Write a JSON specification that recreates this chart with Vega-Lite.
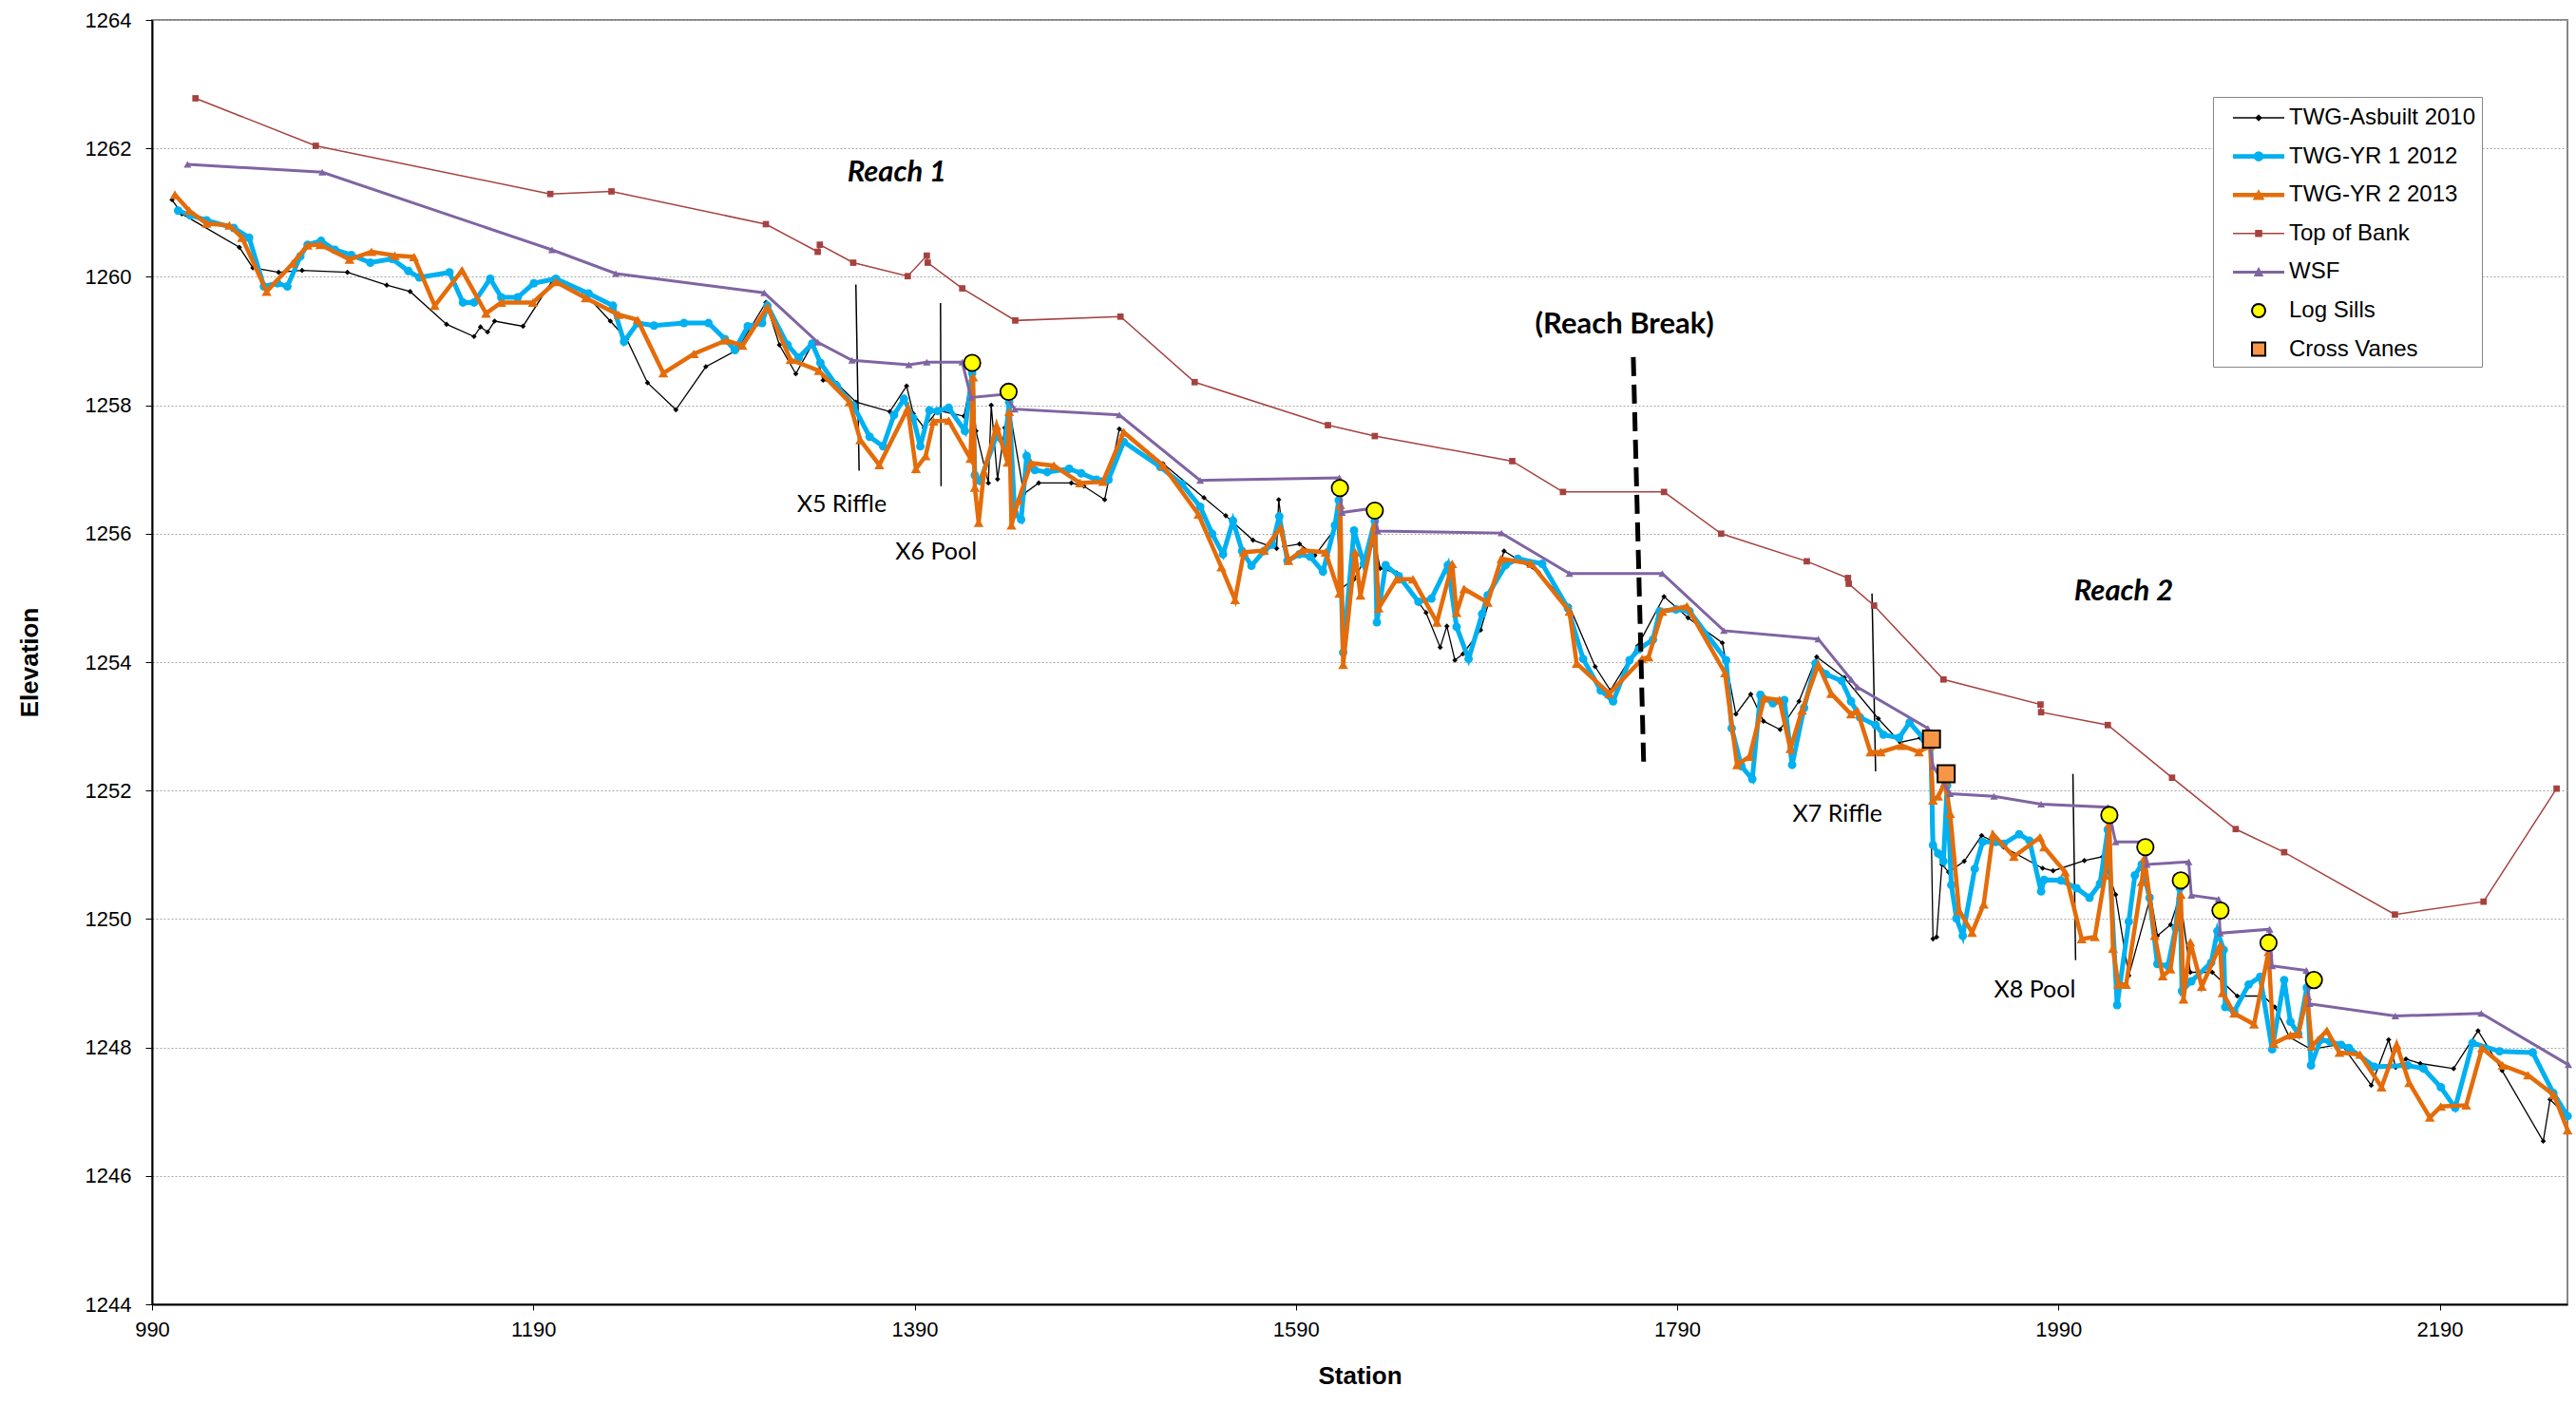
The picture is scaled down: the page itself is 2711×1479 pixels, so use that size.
{
"$schema": "https://vega.github.io/schema/vega-lite/v6.json",
"width": 2542, "height": 1352,
"autosize": {"type": "none"},
"padding": {"left": 160, "top": 21, "right": 9, "bottom": 106},
"background": "white",
"config": {"view": {"stroke": "#868686", "strokeWidth": 2}, "font": "Liberation Sans"},
"datasets": {
"survey": [
{"series":"TWG-Asbuilt 2010","station":1000.5,"elevation":1261.20},{"series":"TWG-Asbuilt 2010","station":1005.7,"elevation":1260.98},{"series":"TWG-Asbuilt 2010","station":1035.8,"elevation":1260.46},{"series":"TWG-Asbuilt 2010","station":1042.9,"elevation":1260.14},{"series":"TWG-Asbuilt 2010","station":1056.4,"elevation":1260.07},{"series":"TWG-Asbuilt 2010","station":1068.7,"elevation":1260.10},{"series":"TWG-Asbuilt 2010","station":1092.5,"elevation":1260.07},{"series":"TWG-Asbuilt 2010","station":1113.1,"elevation":1259.87},{"series":"TWG-Asbuilt 2010","station":1125.4,"elevation":1259.77},{"series":"TWG-Asbuilt 2010","station":1144.5,"elevation":1259.26},{"series":"TWG-Asbuilt 2010","station":1158.9,"elevation":1259.07},{"series":"TWG-Asbuilt 2010","station":1162.3,"elevation":1259.22},{"series":"TWG-Asbuilt 2010","station":1166.0,"elevation":1259.14},{"series":"TWG-Asbuilt 2010","station":1169.7,"elevation":1259.31},{"series":"TWG-Asbuilt 2010","station":1184.6,"elevation":1259.23},{"series":"TWG-Asbuilt 2010","station":1200.4,"elevation":1259.96},{"series":"TWG-Asbuilt 2010","station":1216.1,"elevation":1259.77},{"series":"TWG-Asbuilt 2010","station":1230.4,"elevation":1259.31},{"series":"TWG-Asbuilt 2010","station":1239.0,"elevation":1259.03},{"series":"TWG-Asbuilt 2010","station":1249.9,"elevation":1258.35},{"series":"TWG-Asbuilt 2010","station":1264.8,"elevation":1257.93},{"series":"TWG-Asbuilt 2010","station":1280.5,"elevation":1258.60},{"series":"TWG-Asbuilt 2010","station":1296.8,"elevation":1258.86},{"series":"TWG-Asbuilt 2010","station":1312.0,"elevation":1259.60},{"series":"TWG-Asbuilt 2010","station":1319.1,"elevation":1258.94},{"series":"TWG-Asbuilt 2010","station":1327.7,"elevation":1258.49},{"series":"TWG-Asbuilt 2010","station":1336.9,"elevation":1258.98},{"series":"TWG-Asbuilt 2010","station":1342.0,"elevation":1258.39},{"series":"TWG-Asbuilt 2010","station":1349.2,"elevation":1258.34},{"series":"TWG-Asbuilt 2010","station":1359.2,"elevation":1258.05},{"series":"TWG-Asbuilt 2010","station":1377.0,"elevation":1257.90},{"series":"TWG-Asbuilt 2010","station":1385.8,"elevation":1258.30},{"series":"TWG-Asbuilt 2010","station":1389.3,"elevation":1257.87},{"series":"TWG-Asbuilt 2010","station":1395.0,"elevation":1257.65},{"series":"TWG-Asbuilt 2010","station":1402.1,"elevation":1257.92},{"series":"TWG-Asbuilt 2010","station":1415.9,"elevation":1257.83},{"series":"TWG-Asbuilt 2010","station":1419.9,"elevation":1258.44},{"series":"TWG-Asbuilt 2010","station":1422.2,"elevation":1257.60},{"series":"TWG-Asbuilt 2010","station":1428.7,"elevation":1256.79},{"series":"TWG-Asbuilt 2010","station":1430.2,"elevation":1258.00},{"series":"TWG-Asbuilt 2010","station":1433.5,"elevation":1256.85},{"series":"TWG-Asbuilt 2010","station":1437.3,"elevation":1257.65},{"series":"TWG-Asbuilt 2010","station":1439.6,"elevation":1257.97},{"series":"TWG-Asbuilt 2010","station":1447.3,"elevation":1256.62},{"series":"TWG-Asbuilt 2010","station":1455.1,"elevation":1256.79},{"series":"TWG-Asbuilt 2010","station":1472.2,"elevation":1256.79},{"series":"TWG-Asbuilt 2010","station":1478.8,"elevation":1256.74},{"series":"TWG-Asbuilt 2010","station":1489.7,"elevation":1256.53},{"series":"TWG-Asbuilt 2010","station":1497.4,"elevation":1257.63},{"series":"TWG-Asbuilt 2010","station":1520.3,"elevation":1257.09},{"series":"TWG-Asbuilt 2010","station":1541.8,"elevation":1256.56},{"series":"TWG-Asbuilt 2010","station":1553.2,"elevation":1256.28},{"series":"TWG-Asbuilt 2010","station":1567.5,"elevation":1255.90},{"series":"TWG-Asbuilt 2010","station":1579.9,"elevation":1255.77},{"series":"TWG-Asbuilt 2010","station":1581.0,"elevation":1256.53},{"series":"TWG-Asbuilt 2010","station":1584.0,"elevation":1255.80},{"series":"TWG-Asbuilt 2010","station":1591.9,"elevation":1255.84},{"series":"TWG-Asbuilt 2010","station":1599.9,"elevation":1255.66},{"series":"TWG-Asbuilt 2010","station":1611.9,"elevation":1256.13},{"series":"TWG-Asbuilt 2010","station":1613.3,"elevation":1255.14},{"series":"TWG-Asbuilt 2010","station":1620.5,"elevation":1255.29},{"series":"TWG-Asbuilt 2010","station":1631.4,"elevation":1255.88},{"series":"TWG-Asbuilt 2010","station":1634.2,"elevation":1255.46},{"series":"TWG-Asbuilt 2010","station":1642.8,"elevation":1255.39},{"series":"TWG-Asbuilt 2010","station":1658.3,"elevation":1254.77},{"series":"TWG-Asbuilt 2010","station":1665.7,"elevation":1254.23},{"series":"TWG-Asbuilt 2010","station":1669.2,"elevation":1254.56},{"series":"TWG-Asbuilt 2010","station":1673.4,"elevation":1254.03},{"series":"TWG-Asbuilt 2010","station":1677.7,"elevation":1254.13},{"series":"TWG-Asbuilt 2010","station":1686.9,"elevation":1254.50},{"series":"TWG-Asbuilt 2010","station":1699.2,"elevation":1255.73},{"series":"TWG-Asbuilt 2010","station":1717.2,"elevation":1255.40},{"series":"TWG-Asbuilt 2010","station":1733.5,"elevation":1254.87},{"series":"TWG-Asbuilt 2010","station":1747.0,"elevation":1253.93},{"series":"TWG-Asbuilt 2010","station":1755.0,"elevation":1253.56},{"series":"TWG-Asbuilt 2010","station":1769.3,"elevation":1254.25},{"series":"TWG-Asbuilt 2010","station":1783.1,"elevation":1255.02},{"series":"TWG-Asbuilt 2010","station":1795.7,"elevation":1254.69},{"series":"TWG-Asbuilt 2010","station":1813.7,"elevation":1254.30},{"series":"TWG-Asbuilt 2010","station":1820.8,"elevation":1253.19},{"series":"TWG-Asbuilt 2010","station":1828.6,"elevation":1253.50},{"series":"TWG-Asbuilt 2010","station":1835.3,"elevation":1253.08},{"series":"TWG-Asbuilt 2010","station":1844.0,"elevation":1252.95},{"series":"TWG-Asbuilt 2010","station":1853.9,"elevation":1253.39},{"series":"TWG-Asbuilt 2010","station":1863.2,"elevation":1254.08},{"series":"TWG-Asbuilt 2010","station":1877.7,"elevation":1253.76},{"series":"TWG-Asbuilt 2010","station":1895.5,"elevation":1253.12},{"series":"TWG-Asbuilt 2010","station":1907.0,"elevation":1252.75},{"series":"TWG-Asbuilt 2010","station":1917.4,"elevation":1252.82},{"series":"TWG-Asbuilt 2010","station":1922.5,"elevation":1252.85},{"series":"TWG-Asbuilt 2010","station":1924.2,"elevation":1249.69},{"series":"TWG-Asbuilt 2010","station":1926.1,"elevation":1249.72},{"series":"TWG-Asbuilt 2010","station":1928.9,"elevation":1250.85},{"series":"TWG-Asbuilt 2010","station":1932.4,"elevation":1250.73},{"series":"TWG-Asbuilt 2010","station":1940.6,"elevation":1250.90},{"series":"TWG-Asbuilt 2010","station":1949.7,"elevation":1251.30},{"series":"TWG-Asbuilt 2010","station":1961.2,"elevation":1251.12},{"series":"TWG-Asbuilt 2010","station":1981.7,"elevation":1250.79},{"series":"TWG-Asbuilt 2010","station":1987.2,"elevation":1250.75},{"series":"TWG-Asbuilt 2010","station":2003.6,"elevation":1250.91},{"series":"TWG-Asbuilt 2010","station":2013.2,"elevation":1250.97},{"series":"TWG-Asbuilt 2010","station":2020.0,"elevation":1250.38},{"series":"TWG-Asbuilt 2010","station":2026.9,"elevation":1249.12},{"series":"TWG-Asbuilt 2010","station":2038.4,"elevation":1250.36},{"series":"TWG-Asbuilt 2010","station":2041.9,"elevation":1249.74},{"series":"TWG-Asbuilt 2010","station":2048.8,"elevation":1249.91},{"series":"TWG-Asbuilt 2010","station":2053.7,"elevation":1250.37},{"series":"TWG-Asbuilt 2010","station":2059.2,"elevation":1249.17},{"series":"TWG-Asbuilt 2010","station":2070.7,"elevation":1249.17},{"series":"TWG-Asbuilt 2010","station":2083.8,"elevation":1248.80},{"series":"TWG-Asbuilt 2010","station":2097.5,"elevation":1248.80},{"series":"TWG-Asbuilt 2010","station":2103.5,"elevation":1248.63},{"series":"TWG-Asbuilt 2010","station":2111.2,"elevation":1248.16},{"series":"TWG-Asbuilt 2010","station":2122.5,"elevation":1247.97},{"series":"TWG-Asbuilt 2010","station":2138.3,"elevation":1248.05},{"series":"TWG-Asbuilt 2010","station":2154.1,"elevation":1247.41},{"series":"TWG-Asbuilt 2010","station":2163.2,"elevation":1248.12},{"series":"TWG-Asbuilt 2010","station":2166.9,"elevation":1247.69},{"series":"TWG-Asbuilt 2010","station":2172.3,"elevation":1247.82},{"series":"TWG-Asbuilt 2010","station":2179.8,"elevation":1247.75},{"series":"TWG-Asbuilt 2010","station":2197.3,"elevation":1247.67},{"series":"TWG-Asbuilt 2010","station":2210.1,"elevation":1248.26},{"series":"TWG-Asbuilt 2010","station":2222.7,"elevation":1247.64},{"series":"TWG-Asbuilt 2010","station":2244.3,"elevation":1246.54},{"series":"TWG-Asbuilt 2010","station":2247.9,"elevation":1247.19},{"series":"TWG-Asbuilt 2010","station":2257.1,"elevation":1246.91},
{"series":"TWG-YR 1 2012","station":1003.7,"elevation":1261.03},{"series":"TWG-YR 1 2012","station":1010.0,"elevation":1260.96},{"series":"TWG-YR 1 2012","station":1018.6,"elevation":1260.88},{"series":"TWG-YR 1 2012","station":1032.9,"elevation":1260.76},{"series":"TWG-YR 1 2012","station":1040.9,"elevation":1260.61},{"series":"TWG-YR 1 2012","station":1048.7,"elevation":1259.85},{"series":"TWG-YR 1 2012","station":1055.8,"elevation":1259.90},{"series":"TWG-YR 1 2012","station":1061.0,"elevation":1259.85},{"series":"TWG-YR 1 2012","station":1067.8,"elevation":1260.32},{"series":"TWG-YR 1 2012","station":1071.6,"elevation":1260.50},{"series":"TWG-YR 1 2012","station":1078.7,"elevation":1260.56},{"series":"TWG-YR 1 2012","station":1085.9,"elevation":1260.42},{"series":"TWG-YR 1 2012","station":1094.5,"elevation":1260.34},{"series":"TWG-YR 1 2012","station":1104.5,"elevation":1260.22},{"series":"TWG-YR 1 2012","station":1115.9,"elevation":1260.28},{"series":"TWG-YR 1 2012","station":1124.5,"elevation":1260.09},{"series":"TWG-YR 1 2012","station":1130.2,"elevation":1259.99},{"series":"TWG-YR 1 2012","station":1146.0,"elevation":1260.07},{"series":"TWG-YR 1 2012","station":1153.1,"elevation":1259.60},{"series":"TWG-YR 1 2012","station":1158.9,"elevation":1259.60},{"series":"TWG-YR 1 2012","station":1167.4,"elevation":1259.97},{"series":"TWG-YR 1 2012","station":1173.2,"elevation":1259.68},{"series":"TWG-YR 1 2012","station":1181.8,"elevation":1259.68},{"series":"TWG-YR 1 2012","station":1190.3,"elevation":1259.90},{"series":"TWG-YR 1 2012","station":1201.8,"elevation":1259.97},{"series":"TWG-YR 1 2012","station":1219.0,"elevation":1259.74},{"series":"TWG-YR 1 2012","station":1231.8,"elevation":1259.55},{"series":"TWG-YR 1 2012","station":1237.6,"elevation":1258.99},{"series":"TWG-YR 1 2012","station":1244.7,"elevation":1259.28},{"series":"TWG-YR 1 2012","station":1253.3,"elevation":1259.24},{"series":"TWG-YR 1 2012","station":1269.0,"elevation":1259.28},{"series":"TWG-YR 1 2012","station":1281.9,"elevation":1259.28},{"series":"TWG-YR 1 2012","station":1290.5,"elevation":1259.03},{"series":"TWG-YR 1 2012","station":1295.7,"elevation":1258.86},{"series":"TWG-YR 1 2012","station":1302.5,"elevation":1259.23},{"series":"TWG-YR 1 2012","station":1310.0,"elevation":1259.28},{"series":"TWG-YR 1 2012","station":1312.8,"elevation":1259.55},{"series":"TWG-YR 1 2012","station":1323.4,"elevation":1258.94},{"series":"TWG-YR 1 2012","station":1329.2,"elevation":1258.74},{"series":"TWG-YR 1 2012","station":1336.3,"elevation":1258.96},{"series":"TWG-YR 1 2012","station":1340.6,"elevation":1258.66},{"series":"TWG-YR 1 2012","station":1349.2,"elevation":1258.30},{"series":"TWG-YR 1 2012","station":1357.8,"elevation":1258.00},{"series":"TWG-YR 1 2012","station":1366.4,"elevation":1257.51},{"series":"TWG-YR 1 2012","station":1373.5,"elevation":1257.36},{"series":"TWG-YR 1 2012","station":1379.2,"elevation":1257.85},{"series":"TWG-YR 1 2012","station":1384.4,"elevation":1258.10},{"series":"TWG-YR 1 2012","station":1389.3,"elevation":1257.80},{"series":"TWG-YR 1 2012","station":1393.0,"elevation":1257.36},{"series":"TWG-YR 1 2012","station":1397.8,"elevation":1257.92},{"series":"TWG-YR 1 2012","station":1402.1,"elevation":1257.91},{"series":"TWG-YR 1 2012","station":1407.9,"elevation":1257.96},{"series":"TWG-YR 1 2012","station":1416.4,"elevation":1257.60},{"series":"TWG-YR 1 2012","station":1420.2,"elevation":1258.50},{"series":"TWG-YR 1 2012","station":1421.6,"elevation":1256.91},{"series":"TWG-YR 1 2012","station":1424.4,"elevation":1256.82},{"series":"TWG-YR 1 2012","station":1433.0,"elevation":1257.53},{"series":"TWG-YR 1 2012","station":1437.3,"elevation":1257.36},{"series":"TWG-YR 1 2012","station":1439.6,"elevation":1258.05},{"series":"TWG-YR 1 2012","station":1442.5,"elevation":1256.32},{"series":"TWG-YR 1 2012","station":1445.9,"elevation":1256.22},{"series":"TWG-YR 1 2012","station":1448.8,"elevation":1257.21},{"series":"TWG-YR 1 2012","station":1453.1,"elevation":1256.99},{"series":"TWG-YR 1 2012","station":1459.6,"elevation":1256.96},{"series":"TWG-YR 1 2012","station":1471.1,"elevation":1257.01},{"series":"TWG-YR 1 2012","station":1477.4,"elevation":1256.94},{"series":"TWG-YR 1 2012","station":1485.4,"elevation":1256.84},{"series":"TWG-YR 1 2012","station":1491.7,"elevation":1256.84},{"series":"TWG-YR 1 2012","station":1499.7,"elevation":1257.43},{"series":"TWG-YR 1 2012","station":1518.9,"elevation":1257.04},{"series":"TWG-YR 1 2012","station":1530.3,"elevation":1256.77},{"series":"TWG-YR 1 2012","station":1539.8,"elevation":1256.42},{"series":"TWG-YR 1 2012","station":1546.1,"elevation":1256.00},{"series":"TWG-YR 1 2012","station":1551.8,"elevation":1255.68},{"series":"TWG-YR 1 2012","station":1557.0,"elevation":1256.20},{"series":"TWG-YR 1 2012","station":1561.8,"elevation":1255.73},{"series":"TWG-YR 1 2012","station":1566.7,"elevation":1255.50},{"series":"TWG-YR 1 2012","station":1573.3,"elevation":1255.73},{"series":"TWG-YR 1 2012","station":1577.6,"elevation":1255.83},{"series":"TWG-YR 1 2012","station":1581.3,"elevation":1256.27},{"series":"TWG-YR 1 2012","station":1585.6,"elevation":1255.58},{"series":"TWG-YR 1 2012","station":1591.9,"elevation":1255.68},{"series":"TWG-YR 1 2012","station":1597.6,"elevation":1255.64},{"series":"TWG-YR 1 2012","station":1604.2,"elevation":1255.41},{"series":"TWG-YR 1 2012","station":1610.5,"elevation":1256.13},{"series":"TWG-YR 1 2012","station":1612.5,"elevation":1256.52},{"series":"TWG-YR 1 2012","station":1614.8,"elevation":1254.15},{"series":"TWG-YR 1 2012","station":1620.5,"elevation":1256.05},{"series":"TWG-YR 1 2012","station":1625.6,"elevation":1255.53},{"series":"TWG-YR 1 2012","station":1631.4,"elevation":1256.20},{"series":"TWG-YR 1 2012","station":1632.5,"elevation":1254.62},{"series":"TWG-YR 1 2012","station":1637.1,"elevation":1255.51},{"series":"TWG-YR 1 2012","station":1644.0,"elevation":1255.34},{"series":"TWG-YR 1 2012","station":1654.3,"elevation":1254.94},{"series":"TWG-YR 1 2012","station":1661.1,"elevation":1254.99},{"series":"TWG-YR 1 2012","station":1669.7,"elevation":1255.51},{"series":"TWG-YR 1 2012","station":1674.3,"elevation":1254.55},{"series":"TWG-YR 1 2012","station":1680.6,"elevation":1254.05},{"series":"TWG-YR 1 2012","station":1687.7,"elevation":1254.75},{"series":"TWG-YR 1 2012","station":1690.6,"elevation":1255.04},{"series":"TWG-YR 1 2012","station":1700.0,"elevation":1255.51},{"series":"TWG-YR 1 2012","station":1706.4,"elevation":1255.61},{"series":"TWG-YR 1 2012","station":1719.2,"elevation":1255.53},{"series":"TWG-YR 1 2012","station":1732.7,"elevation":1254.84},{"series":"TWG-YR 1 2012","station":1740.7,"elevation":1254.05},{"series":"TWG-YR 1 2012","station":1749.9,"elevation":1253.56},{"series":"TWG-YR 1 2012","station":1756.4,"elevation":1253.39},{"series":"TWG-YR 1 2012","station":1765.0,"elevation":1254.03},{"series":"TWG-YR 1 2012","station":1769.9,"elevation":1254.20},{"series":"TWG-YR 1 2012","station":1777.3,"elevation":1254.35},{"series":"TWG-YR 1 2012","station":1780.8,"elevation":1254.79},{"series":"TWG-YR 1 2012","station":1789.4,"elevation":1254.82},{"series":"TWG-YR 1 2012","station":1796.5,"elevation":1254.79},{"series":"TWG-YR 1 2012","station":1815.7,"elevation":1254.03},{"series":"TWG-YR 1 2012","station":1818.6,"elevation":1252.97},{"series":"TWG-YR 1 2012","station":1823.7,"elevation":1252.38},{"series":"TWG-YR 1 2012","station":1829.4,"elevation":1252.18},{"series":"TWG-YR 1 2012","station":1833.7,"elevation":1253.49},{"series":"TWG-YR 1 2012","station":1840.2,"elevation":1253.36},{"series":"TWG-YR 1 2012","station":1846.2,"elevation":1253.41},{"series":"TWG-YR 1 2012","station":1850.3,"elevation":1252.40},{"series":"TWG-YR 1 2012","station":1856.6,"elevation":1253.29},{"series":"TWG-YR 1 2012","station":1862.6,"elevation":1253.98},{"series":"TWG-YR 1 2012","station":1868.1,"elevation":1253.81},{"series":"TWG-YR 1 2012","station":1876.3,"elevation":1253.71},{"series":"TWG-YR 1 2012","station":1881.2,"elevation":1253.39},{"series":"TWG-YR 1 2012","station":1885.9,"elevation":1253.14},{"series":"TWG-YR 1 2012","station":1894.1,"elevation":1253.02},{"series":"TWG-YR 1 2012","station":1898.2,"elevation":1252.87},{"series":"TWG-YR 1 2012","station":1906.4,"elevation":1252.82},{"series":"TWG-YR 1 2012","station":1911.9,"elevation":1253.06},{"series":"TWG-YR 1 2012","station":1919.6,"elevation":1252.80},{"series":"TWG-YR 1 2012","station":1923.0,"elevation":1252.75},{"series":"TWG-YR 1 2012","station":1924.2,"elevation":1251.15},{"series":"TWG-YR 1 2012","station":1926.9,"elevation":1251.02},{"series":"TWG-YR 1 2012","station":1929.7,"elevation":1250.90},{"series":"TWG-YR 1 2012","station":1931.6,"elevation":1252.08},{"series":"TWG-YR 1 2012","station":1933.8,"elevation":1250.53},{"series":"TWG-YR 1 2012","station":1936.5,"elevation":1250.01},{"series":"TWG-YR 1 2012","station":1939.8,"elevation":1249.74},{"series":"TWG-YR 1 2012","station":1946.1,"elevation":1250.78},{"series":"TWG-YR 1 2012","station":1950.2,"elevation":1251.20},{"series":"TWG-YR 1 2012","station":1957.1,"elevation":1251.20},{"series":"TWG-YR 1 2012","station":1961.2,"elevation":1251.17},{"series":"TWG-YR 1 2012","station":1969.4,"elevation":1251.32},{"series":"TWG-YR 1 2012","station":1974.8,"elevation":1251.22},{"series":"TWG-YR 1 2012","station":1980.9,"elevation":1250.43},{"series":"TWG-YR 1 2012","station":1982.5,"elevation":1250.61},{"series":"TWG-YR 1 2012","station":1991.3,"elevation":1250.60},{"series":"TWG-YR 1 2012","station":1999.5,"elevation":1250.48},{"series":"TWG-YR 1 2012","station":2006.3,"elevation":1250.33},{"series":"TWG-YR 1 2012","station":2011.8,"elevation":1250.55},{"series":"TWG-YR 1 2012","station":2015.9,"elevation":1251.39},{"series":"TWG-YR 1 2012","station":2020.8,"elevation":1248.66},{"series":"TWG-YR 1 2012","station":2026.9,"elevation":1249.96},{"series":"TWG-YR 1 2012","station":2030.1,"elevation":1250.68},{"series":"TWG-YR 1 2012","station":2033.7,"elevation":1250.85},{"series":"TWG-YR 1 2012","station":2037.8,"elevation":1250.33},{"series":"TWG-YR 1 2012","station":2041.9,"elevation":1249.30},{"series":"TWG-YR 1 2012","station":2047.4,"elevation":1249.27},{"series":"TWG-YR 1 2012","station":2051.5,"elevation":1249.86},{"series":"TWG-YR 1 2012","station":2053.7,"elevation":1250.48},{"series":"TWG-YR 1 2012","station":2054.8,"elevation":1248.88},{"series":"TWG-YR 1 2012","station":2059.7,"elevation":1249.03},{"series":"TWG-YR 1 2012","station":2070.1,"elevation":1249.32},{"series":"TWG-YR 1 2012","station":2073.4,"elevation":1249.81},{"series":"TWG-YR 1 2012","station":2076.7,"elevation":1249.52},{"series":"TWG-YR 1 2012","station":2077.5,"elevation":1248.63},{"series":"TWG-YR 1 2012","station":2082.2,"elevation":1248.56},{"series":"TWG-YR 1 2012","station":2089.8,"elevation":1248.98},{"series":"TWG-YR 1 2012","station":2095.8,"elevation":1249.10},{"series":"TWG-YR 1 2012","station":2102.1,"elevation":1247.97},{"series":"TWG-YR 1 2012","station":2108.4,"elevation":1249.05},{"series":"TWG-YR 1 2012","station":2111.7,"elevation":1248.40},{"series":"TWG-YR 1 2012","station":2115.8,"elevation":1248.21},{"series":"TWG-YR 1 2012","station":2120.3,"elevation":1248.93},{"series":"TWG-YR 1 2012","station":2122.5,"elevation":1247.72},{"series":"TWG-YR 1 2012","station":2127.5,"elevation":1248.12},{"series":"TWG-YR 1 2012","station":2132.5,"elevation":1248.09},{"series":"TWG-YR 1 2012","station":2138.3,"elevation":1248.04},{"series":"TWG-YR 1 2012","station":2142.4,"elevation":1247.99},{"series":"TWG-YR 1 2012","station":2155.7,"elevation":1247.70},{"series":"TWG-YR 1 2012","station":2173.2,"elevation":1247.72},{"series":"TWG-YR 1 2012","station":2181.5,"elevation":1247.67},{"series":"TWG-YR 1 2012","station":2190.6,"elevation":1247.38},{"series":"TWG-YR 1 2012","station":2198.1,"elevation":1247.06},{"series":"TWG-YR 1 2012","station":2207.2,"elevation":1248.07},{"series":"TWG-YR 1 2012","station":2221.4,"elevation":1247.94},{"series":"TWG-YR 1 2012","station":2238.8,"elevation":1247.92},{"series":"TWG-YR 1 2012","station":2249.6,"elevation":1247.29},{"series":"TWG-YR 1 2012","station":2257.1,"elevation":1246.93},
{"series":"TWG-YR 2 2013","station":1002.0,"elevation":1261.28},{"series":"TWG-YR 2 2013","station":1009.5,"elevation":1261.03},{"series":"TWG-YR 2 2013","station":1018.6,"elevation":1260.83},{"series":"TWG-YR 2 2013","station":1030.6,"elevation":1260.80},{"series":"TWG-YR 2 2013","station":1037.2,"elevation":1260.61},{"series":"TWG-YR 2 2013","station":1050.1,"elevation":1259.77},{"series":"TWG-YR 2 2013","station":1063.8,"elevation":1260.21},{"series":"TWG-YR 2 2013","station":1071.6,"elevation":1260.49},{"series":"TWG-YR 2 2013","station":1078.2,"elevation":1260.50},{"series":"TWG-YR 2 2013","station":1093.6,"elevation":1260.27},{"series":"TWG-YR 2 2013","station":1105.1,"elevation":1260.39},{"series":"TWG-YR 2 2013","station":1117.4,"elevation":1260.33},{"series":"TWG-YR 2 2013","station":1127.4,"elevation":1260.31},{"series":"TWG-YR 2 2013","station":1138.3,"elevation":1259.55},{"series":"TWG-YR 2 2013","station":1152.6,"elevation":1260.10},{"series":"TWG-YR 2 2013","station":1165.2,"elevation":1259.43},{"series":"TWG-YR 2 2013","station":1173.2,"elevation":1259.60},{"series":"TWG-YR 2 2013","station":1189.8,"elevation":1259.60},{"series":"TWG-YR 2 2013","station":1201.8,"elevation":1259.92},{"series":"TWG-YR 2 2013","station":1217.5,"elevation":1259.67},{"series":"TWG-YR 2 2013","station":1234.7,"elevation":1259.41},{"series":"TWG-YR 2 2013","station":1244.7,"elevation":1259.33},{"series":"TWG-YR 2 2013","station":1258.2,"elevation":1258.50},{"series":"TWG-YR 2 2013","station":1274.2,"elevation":1258.80},{"series":"TWG-YR 2 2013","station":1291.1,"elevation":1259.01},{"series":"TWG-YR 2 2013","station":1299.7,"elevation":1258.93},{"series":"TWG-YR 2 2013","station":1312.8,"elevation":1259.53},{"series":"TWG-YR 2 2013","station":1324.9,"elevation":1258.71},{"series":"TWG-YR 2 2013","station":1339.7,"elevation":1258.54},{"series":"TWG-YR 2 2013","station":1355.8,"elevation":1258.05},{"series":"TWG-YR 2 2013","station":1361.5,"elevation":1257.46},{"series":"TWG-YR 2 2013","station":1371.5,"elevation":1257.07},{"series":"TWG-YR 2 2013","station":1386.4,"elevation":1257.95},{"series":"TWG-YR 2 2013","station":1390.7,"elevation":1257.01},{"series":"TWG-YR 2 2013","station":1395.8,"elevation":1257.21},{"series":"TWG-YR 2 2013","station":1399.9,"elevation":1257.75},{"series":"TWG-YR 2 2013","station":1407.9,"elevation":1257.76},{"series":"TWG-YR 2 2013","station":1419.3,"elevation":1257.17},{"series":"TWG-YR 2 2013","station":1420.7,"elevation":1258.44},{"series":"TWG-YR 2 2013","station":1421.6,"elevation":1256.72},{"series":"TWG-YR 2 2013","station":1423.6,"elevation":1256.17},{"series":"TWG-YR 2 2013","station":1426.4,"elevation":1256.96},{"series":"TWG-YR 2 2013","station":1433.0,"elevation":1257.68},{"series":"TWG-YR 2 2013","station":1438.8,"elevation":1257.11},{"series":"TWG-YR 2 2013","station":1439.6,"elevation":1257.90},{"series":"TWG-YR 2 2013","station":1440.8,"elevation":1256.13},{"series":"TWG-YR 2 2013","station":1444.5,"elevation":1256.52},{"series":"TWG-YR 2 2013","station":1451.1,"elevation":1257.10},{"series":"TWG-YR 2 2013","station":1463.1,"elevation":1257.06},{"series":"TWG-YR 2 2013","station":1476.8,"elevation":1256.79},{"series":"TWG-YR 2 2013","station":1488.8,"elevation":1256.81},{"series":"TWG-YR 2 2013","station":1499.7,"elevation":1257.58},{"series":"TWG-YR 2 2013","station":1520.3,"elevation":1257.06},{"series":"TWG-YR 2 2013","station":1538.9,"elevation":1256.30},{"series":"TWG-YR 2 2013","station":1550.9,"elevation":1255.48},{"series":"TWG-YR 2 2013","station":1558.1,"elevation":1254.97},{"series":"TWG-YR 2 2013","station":1562.7,"elevation":1255.71},{"series":"TWG-YR 2 2013","station":1573.3,"elevation":1255.74},{"series":"TWG-YR 2 2013","station":1581.9,"elevation":1256.09},{"series":"TWG-YR 2 2013","station":1586.1,"elevation":1255.58},{"series":"TWG-YR 2 2013","station":1593.3,"elevation":1255.74},{"series":"TWG-YR 2 2013","station":1605.6,"elevation":1255.71},{"series":"TWG-YR 2 2013","station":1612.8,"elevation":1255.07},{"series":"TWG-YR 2 2013","station":1613.3,"elevation":1256.45},{"series":"TWG-YR 2 2013","station":1614.8,"elevation":1253.96},{"series":"TWG-YR 2 2013","station":1621.1,"elevation":1255.71},{"series":"TWG-YR 2 2013","station":1623.9,"elevation":1255.04},{"series":"TWG-YR 2 2013","station":1631.4,"elevation":1256.13},{"series":"TWG-YR 2 2013","station":1633.4,"elevation":1254.84},{"series":"TWG-YR 2 2013","station":1642.8,"elevation":1255.29},{"series":"TWG-YR 2 2013","station":1651.4,"elevation":1255.29},{"series":"TWG-YR 2 2013","station":1664.0,"elevation":1254.62},{"series":"TWG-YR 2 2013","station":1672.0,"elevation":1255.53},{"series":"TWG-YR 2 2013","station":1674.3,"elevation":1254.77},{"series":"TWG-YR 2 2013","station":1678.3,"elevation":1255.14},{"series":"TWG-YR 2 2013","station":1690.6,"elevation":1254.93},{"series":"TWG-YR 2 2013","station":1697.8,"elevation":1255.61},{"series":"TWG-YR 2 2013","station":1713.5,"elevation":1255.53},{"series":"TWG-YR 2 2013","station":1733.5,"elevation":1254.79},{"series":"TWG-YR 2 2013","station":1737.3,"elevation":1253.98},{"series":"TWG-YR 2 2013","station":1754.4,"elevation":1253.51},{"series":"TWG-YR 2 2013","station":1771.6,"elevation":1254.05},{"series":"TWG-YR 2 2013","station":1775.0,"elevation":1254.08},{"series":"TWG-YR 2 2013","station":1782.2,"elevation":1254.79},{"series":"TWG-YR 2 2013","station":1795.1,"elevation":1254.87},{"series":"TWG-YR 2 2013","station":1815.1,"elevation":1253.83},{"series":"TWG-YR 2 2013","station":1821.4,"elevation":1252.40},{"series":"TWG-YR 2 2013","station":1828.0,"elevation":1252.53},{"series":"TWG-YR 2 2013","station":1835.7,"elevation":1253.44},{"series":"TWG-YR 2 2013","station":1843.7,"elevation":1253.41},{"series":"TWG-YR 2 2013","station":1849.4,"elevation":1252.65},{"series":"TWG-YR 2 2013","station":1855.5,"elevation":1253.25},{"series":"TWG-YR 2 2013","station":1864.0,"elevation":1253.96},{"series":"TWG-YR 2 2013","station":1870.8,"elevation":1253.51},{"series":"TWG-YR 2 2013","station":1881.2,"elevation":1253.19},{"series":"TWG-YR 2 2013","station":1884.5,"elevation":1253.24},{"series":"TWG-YR 2 2013","station":1891.4,"elevation":1252.60},{"series":"TWG-YR 2 2013","station":1896.8,"elevation":1252.60},{"series":"TWG-YR 2 2013","station":1907.8,"elevation":1252.70},{"series":"TWG-YR 2 2013","station":1916.8,"elevation":1252.60},{"series":"TWG-YR 2 2013","station":1922.8,"elevation":1252.70},{"series":"TWG-YR 2 2013","station":1924.2,"elevation":1251.85},{"series":"TWG-YR 2 2013","station":1926.9,"elevation":1251.91},{"series":"TWG-YR 2 2013","station":1930.5,"elevation":1252.13},{"series":"TWG-YR 2 2013","station":1933.2,"elevation":1251.64},{"series":"TWG-YR 2 2013","station":1937.9,"elevation":1250.13},{"series":"TWG-YR 2 2013","station":1944.7,"elevation":1249.79},{"series":"TWG-YR 2 2013","station":1950.8,"elevation":1250.23},{"series":"TWG-YR 2 2013","station":1955.7,"elevation":1251.32},{"series":"TWG-YR 2 2013","station":1966.6,"elevation":1250.97},{"series":"TWG-YR 2 2013","station":1980.3,"elevation":1251.27},{"series":"TWG-YR 2 2013","station":1982.5,"elevation":1251.12},{"series":"TWG-YR 2 2013","station":1993.5,"elevation":1250.73},{"series":"TWG-YR 2 2013","station":2002.2,"elevation":1249.69},{"series":"TWG-YR 2 2013","station":2009.1,"elevation":1249.72},{"series":"TWG-YR 2 2013","station":2014.5,"elevation":1250.68},{"series":"TWG-YR 2 2013","station":2016.7,"elevation":1251.49},{"series":"TWG-YR 2 2013","station":2018.6,"elevation":1249.54},{"series":"TWG-YR 2 2013","station":2021.4,"elevation":1248.98},{"series":"TWG-YR 2 2013","station":2025.5,"elevation":1248.98},{"series":"TWG-YR 2 2013","station":2033.7,"elevation":1250.58},{"series":"TWG-YR 2 2013","station":2035.1,"elevation":1250.95},{"series":"TWG-YR 2 2013","station":2040.5,"elevation":1249.74},{"series":"TWG-YR 2 2013","station":2044.7,"elevation":1249.11},{"series":"TWG-YR 2 2013","station":2048.8,"elevation":1249.22},{"series":"TWG-YR 2 2013","station":2054.2,"elevation":1250.38},{"series":"TWG-YR 2 2013","station":2055.6,"elevation":1248.75},{"series":"TWG-YR 2 2013","station":2059.2,"elevation":1249.64},{"series":"TWG-YR 2 2013","station":2065.2,"elevation":1248.95},{"series":"TWG-YR 2 2013","station":2074.8,"elevation":1249.59},{"series":"TWG-YR 2 2013","station":2076.1,"elevation":1248.85},{"series":"TWG-YR 2 2013","station":2082.2,"elevation":1248.53},{"series":"TWG-YR 2 2013","station":2092.6,"elevation":1248.36},{"series":"TWG-YR 2 2013","station":2100.2,"elevation":1249.49},{"series":"TWG-YR 2 2013","station":2102.9,"elevation":1248.06},{"series":"TWG-YR 2 2013","station":2111.7,"elevation":1248.19},{"series":"TWG-YR 2 2013","station":2115.8,"elevation":1248.21},{"series":"TWG-YR 2 2013","station":2120.5,"elevation":1248.80},{"series":"TWG-YR 2 2013","station":2122.9,"elevation":1248.02},{"series":"TWG-YR 2 2013","station":2130.8,"elevation":1248.26},{"series":"TWG-YR 2 2013","station":2137.4,"elevation":1247.92},{"series":"TWG-YR 2 2013","station":2148.2,"elevation":1247.89},{"series":"TWG-YR 2 2013","station":2159.5,"elevation":1247.38},{"series":"TWG-YR 2 2013","station":2167.4,"elevation":1248.04},{"series":"TWG-YR 2 2013","station":2174.0,"elevation":1247.45},{"series":"TWG-YR 2 2013","station":2184.8,"elevation":1246.91},{"series":"TWG-YR 2 2013","station":2190.6,"elevation":1247.08},{"series":"TWG-YR 2 2013","station":2203.9,"elevation":1247.10},{"series":"TWG-YR 2 2013","station":2212.2,"elevation":1247.99},{"series":"TWG-YR 2 2013","station":2223.0,"elevation":1247.72},{"series":"TWG-YR 2 2013","station":2236.3,"elevation":1247.57},{"series":"TWG-YR 2 2013","station":2249.9,"elevation":1247.26},{"series":"TWG-YR 2 2013","station":2257.1,"elevation":1246.71},
{"series":"Top of Bank","station":1012.8,"elevation":1262.78},{"series":"Top of Bank","station":1075.9,"elevation":1262.04},{"series":"Top of Bank","station":1198.9,"elevation":1261.29},{"series":"Top of Bank","station":1231.0,"elevation":1261.33},{"series":"Top of Bank","station":1312.0,"elevation":1260.82},{"series":"Top of Bank","station":1339.2,"elevation":1260.39},{"series":"Top of Bank","station":1340.3,"elevation":1260.50},{"series":"Top of Bank","station":1357.8,"elevation":1260.22},{"series":"Top of Bank","station":1386.4,"elevation":1260.01},{"series":"Top of Bank","station":1396.4,"elevation":1260.33},{"series":"Top of Bank","station":1396.9,"elevation":1260.22},{"series":"Top of Bank","station":1415.0,"elevation":1259.82},{"series":"Top of Bank","station":1442.8,"elevation":1259.32},{"series":"Top of Bank","station":1498.0,"elevation":1259.38},{"series":"Top of Bank","station":1536.9,"elevation":1258.36},{"series":"Top of Bank","station":1606.8,"elevation":1257.69},{"series":"Top of Bank","station":1631.4,"elevation":1257.52},{"series":"Top of Bank","station":1703.5,"elevation":1257.13},{"series":"Top of Bank","station":1730.1,"elevation":1256.65},{"series":"Top of Bank","station":1783.1,"elevation":1256.65},{"series":"Top of Bank","station":1813.1,"elevation":1256.00},{"series":"Top of Bank","station":1858.0,"elevation":1255.57},{"series":"Top of Bank","station":1879.6,"elevation":1255.31},{"series":"Top of Bank","station":1880.0,"elevation":1255.22},{"series":"Top of Bank","station":1893.3,"elevation":1254.88},{"series":"Top of Bank","station":1929.7,"elevation":1253.73},{"series":"Top of Bank","station":1980.6,"elevation":1253.34},{"series":"Top of Bank","station":1980.9,"elevation":1253.22},{"series":"Top of Bank","station":2015.9,"elevation":1253.02},{"series":"Top of Bank","station":2049.6,"elevation":1252.20},{"series":"Top of Bank","station":2083.0,"elevation":1251.40},{"series":"Top of Bank","station":2108.4,"elevation":1251.04},{"series":"Top of Bank","station":2166.5,"elevation":1250.07},{"series":"Top of Bank","station":2213.0,"elevation":1250.27},{"series":"Top of Bank","station":2251.3,"elevation":1252.03},
{"series":"WSF","station":1008.6,"elevation":1261.75},{"series":"WSF","station":1079.3,"elevation":1261.63},{"series":"WSF","station":1199.8,"elevation":1260.42},{"series":"WSF","station":1233.3,"elevation":1260.05},{"series":"WSF","station":1311.1,"elevation":1259.75},{"series":"WSF","station":1339.2,"elevation":1258.98},{"series":"WSF","station":1357.2,"elevation":1258.70},{"series":"WSF","station":1387.0,"elevation":1258.63},{"series":"WSF","station":1396.4,"elevation":1258.67},{"series":"WSF","station":1415.0,"elevation":1258.67},{"series":"WSF","station":1419.6,"elevation":1258.12},{"series":"WSF","station":1437.3,"elevation":1258.17},{"series":"WSF","station":1442.5,"elevation":1257.94},{"series":"WSF","station":1497.4,"elevation":1257.85},{"series":"WSF","station":1539.8,"elevation":1256.83},{"series":"WSF","station":1612.8,"elevation":1256.87},{"series":"WSF","station":1614.2,"elevation":1256.33},{"series":"WSF","station":1631.4,"elevation":1256.40},{"series":"WSF","station":1632.8,"elevation":1256.04},{"series":"WSF","station":1697.8,"elevation":1256.01},{"series":"WSF","station":1733.5,"elevation":1255.38},{"series":"WSF","station":1782.2,"elevation":1255.38},{"series":"WSF","station":1814.5,"elevation":1254.49},{"series":"WSF","station":1864.0,"elevation":1254.36},{"series":"WSF","station":1881.2,"elevation":1253.73},{"series":"WSF","station":1884.5,"elevation":1253.61},{"series":"WSF","station":1921.5,"elevation":1252.97},{"series":"WSF","station":1924.2,"elevation":1252.38},{"series":"WSF","station":1933.2,"elevation":1251.95},{"series":"WSF","station":1956.2,"elevation":1251.91},{"series":"WSF","station":1980.9,"elevation":1251.79},{"series":"WSF","station":2015.9,"elevation":1251.74},{"series":"WSF","station":2020.0,"elevation":1251.20},{"series":"WSF","station":2035.1,"elevation":1251.20},{"series":"WSF","station":2036.4,"elevation":1250.85},{"series":"WSF","station":2058.3,"elevation":1250.89},{"series":"WSF","station":2059.7,"elevation":1250.37},{"series":"WSF","station":2074.0,"elevation":1250.31},{"series":"WSF","station":2074.8,"elevation":1249.78},{"series":"WSF","station":2100.8,"elevation":1249.84},{"series":"WSF","station":2102.1,"elevation":1249.27},{"series":"WSF","station":2120.0,"elevation":1249.20},{"series":"WSF","station":2121.8,"elevation":1248.68},{"series":"WSF","station":2166.7,"elevation":1248.49},{"series":"WSF","station":2211.8,"elevation":1248.53},{"series":"WSF","station":2257.5,"elevation":1247.73},
{"series":"Log Sills","station":1420.2,"elevation":1258.66},{"series":"Log Sills","station":1439.3,"elevation":1258.21},{"series":"Log Sills","station":1613.1,"elevation":1256.71},{"series":"Log Sills","station":1631.4,"elevation":1256.36},{"series":"Log Sills","station":2016.7,"elevation":1251.62},{"series":"Log Sills","station":2035.6,"elevation":1251.12},{"series":"Log Sills","station":2054.2,"elevation":1250.60},{"series":"Log Sills","station":2075.0,"elevation":1250.13},{"series":"Log Sills","station":2100.2,"elevation":1249.63},{"series":"Log Sills","station":2124.0,"elevation":1249.05},
{"series":"Cross Vanes","station":1923.4,"elevation":1252.80},{"series":"Cross Vanes","station":1931.1,"elevation":1252.26}
],
"markers": [
{"id":"X5","station":1359.2,"elevation":1259.88},{"id":"X5","station":1360.9,"elevation":1256.98},
{"id":"X6","station":1403.6,"elevation":1259.59},{"id":"X6","station":1403.9,"elevation":1256.74},
{"id":"X7","station":1892.2,"elevation":1255.07},{"id":"X7","station":1894.1,"elevation":1252.30},
{"id":"X8","station":1997.6,"elevation":1252.26},{"id":"X8","station":1999.0,"elevation":1249.36}
],
"reachbreak": [
{"station":1767.0,"elevation":1258.75},{"station":1772.5,"elevation":1252.35}
],
"labels": [
{"label":"Reach 1","kind":"reach","station":1380.7,"elevation":1261.62},
{"label":"Reach 2","kind":"reach","station":2024.2,"elevation":1255.10},
{"label":"(Reach Break)","kind":"break","station":1762.4,"elevation":1259.25},
{"label":"X5 Riffle","kind":"section","station":1351.8,"elevation":1256.45},
{"label":"X6 Pool","kind":"section","station":1401.3,"elevation":1255.71},
{"label":"X7 Riffle","kind":"section","station":1874.1,"elevation":1251.64},
{"label":"X8 Pool","kind":"section","station":1977.6,"elevation":1248.90}
]
},
"encoding": {
"x": {"field": "station", "type": "quantitative",
 "scale": {"domain": [990, 2257], "nice": false, "zero": false},
 "axis": {"title": "Station", "values": [990, 1190, 1390, 1590, 1790, 1990, 2190], "format": "d", "grid": false,
  "labelFlush": false, "labelFont": "Liberation Sans", "labelFontSize": 22, "labelColor": "black", "labelPadding": 10,
  "tickColor": "black", "tickSize": 6, "tickWidth": 1, "domainColor": "black", "domainWidth": 2,
  "titleFont": "Liberation Sans", "titleFontSize": 26, "titleFontWeight": "bold", "titleColor": "black", "titlePadding": 25}},
"y": {"field": "elevation", "type": "quantitative",
 "scale": {"domain": [1244, 1264], "nice": false, "zero": false},
 "axis": {"title": "Elevation", "values": [1244, 1246, 1248, 1250, 1252, 1254, 1256, 1258, 1260, 1262, 1264], "format": "d",
  "grid": true, "gridColor": "#A6A6A6", "gridDash": [2, 2], "gridWidth": 1,
  "labelFlush": false, "labelFont": "Liberation Sans", "labelFontSize": 22, "labelColor": "black", "labelPadding": 15,
  "tickColor": "black", "tickSize": 7, "tickWidth": 1, "domainColor": "black", "domainWidth": 2,
  "titleFont": "Liberation Sans", "titleFontSize": 26, "titleFontWeight": "bold", "titleColor": "black", "titlePadding": 45}}
},
"layer": [
{"data": {"name": "markers"}, "mark": {"type": "line", "color": "black", "strokeWidth": 1.5}, "encoding": {"detail": {"field": "id"}}},
{"data": {"name": "survey"}, "transform": [{"filter": "datum.series === 'TWG-Asbuilt 2010'"}],
 "mark": {"type": "line", "color": "black", "strokeWidth": 1.3, "point": {"shape": "diamond", "size": 32, "filled": true, "color": "black", "opacity": 1}}},
{"data": {"name": "survey"}, "transform": [{"filter": "datum.series === 'TWG-YR 1 2012'"}],
 "mark": {"type": "line", "color": "#00B0F0", "strokeWidth": 5, "point": {"shape": "circle", "size": 80, "filled": true, "color": "#00B0F0", "opacity": 1}}},
{"data": {"name": "survey"}, "transform": [{"filter": "datum.series === 'TWG-YR 2 2013'"}],
 "mark": {"type": "line", "color": "#E46C0A", "strokeWidth": 4.5, "point": {"shape": "triangle-up", "size": 110, "filled": true, "color": "#E46C0A", "opacity": 1}}},
{"data": {"name": "survey"}, "transform": [{"filter": "datum.series === 'Top of Bank'"}],
 "mark": {"type": "line", "color": "#A5423F", "strokeWidth": 1.5, "point": {"shape": "square", "size": 45, "filled": true, "color": "#A5423F", "opacity": 1}}},
{"data": {"name": "survey"}, "transform": [{"filter": "datum.series === 'WSF'"}],
 "mark": {"type": "line", "color": "#8064A2", "strokeWidth": 3, "point": {"shape": "triangle-up", "size": 65, "filled": true, "color": "#8064A2", "opacity": 1}}},
{"data": {"name": "reachbreak"}, "mark": {"type": "line", "color": "black", "strokeWidth": 5, "strokeDash": [20, 9]}, "encoding": {}},
{"data": {"name": "survey"}, "transform": [{"filter": "datum.series === 'Log Sills'"}],
 "mark": {"type": "point", "shape": "circle", "filled": true, "fill": "#FFFF00", "stroke": "black", "strokeWidth": 1.8, "size": 300, "opacity": 1}},
{"data": {"name": "survey"}, "transform": [{"filter": "datum.series === 'Cross Vanes'"}],
 "mark": {"type": "point", "shape": "square", "filled": true, "fill": "#F79646", "stroke": "black", "strokeWidth": 2, "size": 324, "opacity": 1}},
{"data": {"name": "labels"}, "transform": [{"filter": "datum.kind === 'reach'"}],
 "mark": {"type": "text", "font": "Lato", "fontSize": 31, "fontWeight": "bold", "fontStyle": "italic", "color": "black", "align": "center", "baseline": "middle"},
 "encoding": {"text": {"field": "label"}}},
{"data": {"name": "labels"}, "transform": [{"filter": "datum.kind === 'break'"}],
 "mark": {"type": "text", "font": "Lato", "fontSize": 31, "fontWeight": "bold", "color": "black", "align": "center", "baseline": "middle"},
 "encoding": {"text": {"field": "label"}}},
{"data": {"name": "labels"}, "transform": [{"filter": "datum.kind === 'section'"}],
 "mark": {"type": "text", "font": "Lato", "fontSize": 25, "color": "black", "align": "center", "baseline": "middle"},
 "encoding": {"text": {"field": "label"}}},
{"data": {"name": "survey"},
 "mark": {"type": "point", "filled": true, "opacity": 0},
 "encoding": {
  "fill": {"field": "series", "type": "nominal",
   "scale": {"domain": ["TWG-Asbuilt 2010", "TWG-YR 1 2012", "TWG-YR 2 2013", "Top of Bank", "WSF", "Log Sills", "Cross Vanes"],
    "range": ["#000000", "#00B0F0", "#E46C0A", "#A5423F", "#8064A2", "#FFFF00", "#F79646"]},
   "legend": {"title": null, "orient": "none", "legendX": 2169, "legendY": 81, "labelFont": "Liberation Sans", "labelFontSize": 24, "labelColor": "black",
    "symbolSize": 900, "symbolStrokeWidth": 2, "symbolOffset": 26, "labelOffset": 16, "rowPadding": 12.6, "padding": 6,
    "strokeColor": "#868686", "fillColor": "white", "symbolOpacity": 1, "labelLimit": 400}},
  "stroke": {"field": "series", "type": "nominal",
   "scale": {"domain": ["TWG-Asbuilt 2010", "TWG-YR 1 2012", "TWG-YR 2 2013", "Top of Bank", "WSF", "Log Sills", "Cross Vanes"],
    "range": ["transparent", "transparent", "transparent", "transparent", "transparent", "#000000", "#000000"]},
   "legend": {"title": null, "orient": "none", "legendX": 2169, "legendY": 81, "labelFont": "Liberation Sans", "labelFontSize": 24, "labelColor": "black",
    "symbolSize": 900, "symbolStrokeWidth": 2, "symbolOffset": 26, "labelOffset": 16, "rowPadding": 12.6, "padding": 6,
    "strokeColor": "#868686", "fillColor": "white", "symbolOpacity": 1, "labelLimit": 400}},
  "shape": {"field": "series", "type": "nominal",
   "scale": {"domain": ["TWG-Asbuilt 2010", "TWG-YR 1 2012", "TWG-YR 2 2013", "Top of Bank", "WSF", "Log Sills", "Cross Vanes"],
    "range": [
     "M-1.8,-0.045H1.8V0.045H-1.8Z M0,-0.25L0.25,0L0,0.25L-0.25,0Z",
     "M-1.8,-0.16H1.8V0.16H-1.8Z M0.36,0L0.312,0.18L0.18,0.312L0,0.36L-0.18,0.312L-0.312,0.18L-0.36,0L-0.312,-0.18L-0.18,-0.312L0,-0.36L0.18,-0.312L0.312,-0.18Z",
     "M-1.8,-0.15H1.8V0.15H-1.8Z M0,-0.4L0.42,0.36L-0.42,0.36Z",
     "M-1.8,-0.05H1.8V0.05H-1.8Z M-0.25,-0.25H0.25V0.25H-0.25Z",
     "M-1.8,-0.1H1.8V0.1H-1.8Z M0,-0.38L0.35,0.3L-0.35,0.3Z",
     "M0.467,0L0.431,0.179L0.33,0.33L0.179,0.431L0,0.467L-0.179,0.431L-0.33,0.33L-0.431,0.179L-0.467,0L-0.431,-0.179L-0.33,-0.33L-0.179,-0.431L0,-0.467L0.179,-0.431L0.33,-0.33L0.431,-0.179Z",
     "M-0.467,-0.467H0.467V0.467H-0.467Z"]},
   "legend": {"title": null, "orient": "none", "legendX": 2169, "legendY": 81, "labelFont": "Liberation Sans", "labelFontSize": 24, "labelColor": "black",
    "symbolSize": 900, "symbolStrokeWidth": 2, "symbolOffset": 26, "labelOffset": 16, "rowPadding": 12.6, "padding": 6,
    "strokeColor": "#868686", "fillColor": "white", "symbolOpacity": 1, "labelLimit": 400}}
 }}
]
}
